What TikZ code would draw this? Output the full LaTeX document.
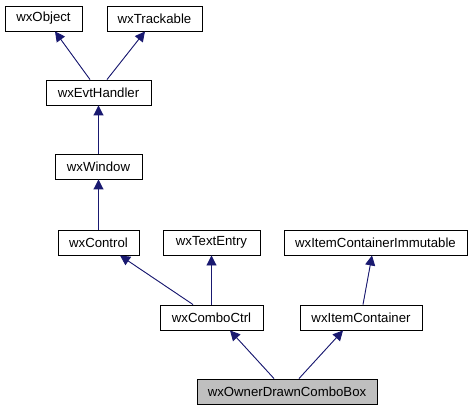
\documentclass[tikz,border=0pt]{standalone}
\usepackage{fontspec}
\setmainfont{Liberation Sans}
\usetikzlibrary{arrows.meta,calc}
\definecolor{edgeblue}{HTML}{191970}
\tikzset{
  cls/.style={draw=black, line width=0.9pt, fill=white, inner sep=0pt, minimum height=25pt, font=\fontsize{13.2}{15}\selectfont},
  inh/.style={draw=edgeblue, line width=0.9pt, -{Triangle[length=10pt,width=10pt]}, fill=edgeblue},
}
\begin{document}
\begin{tikzpicture}[x=1pt,y=-1pt]
\useasboundingbox (0,0) rectangle (473,411);
\node[cls, minimum width=77pt] (obj) at (43.5,18.5) {wxObject};
\node[cls, minimum width=95pt] (trk) at (154.5,18.5) {wxTrackable};
\node[cls, minimum width=105pt] (evt) at (98.5,92.5) {wxEvtHandler};
\node[cls, minimum width=87pt] (win) at (98.5,166.5) {wxWindow};
\node[cls, minimum width=81pt] (ctl) at (98.5,242.5) {wxControl};
\node[cls, minimum width=97pt] (txt) at (211.5,242.5) {wxTextEntry};
\node[cls, minimum width=183pt] (ici) at (375.5,242.5) {wxItemContainerImmutable};
\node[cls, minimum width=103pt] (cmb) at (211.5,317.5) {wxComboCtrl};
\node[cls, minimum width=122pt] (itc) at (361,317.5) {wxItemContainer};
\node[cls, minimum width=180pt, fill={rgb,255:red,191;green,191;blue,191}] (own) at (287,391.5) {wxOwnerDrawnComboBox};

\draw[inh] ($(evt.north)+(-8.5,0)$) -- ($(obj.south)+(11.5,0)$);
\draw[inh] ($(evt.north)+(8.5,0)$) -- ($(trk.south)+(-9.5,0)$);
\draw[inh] (win.north) -- (evt.south);
\draw[inh] (ctl.north) -- (win.south);
\draw[inh] ($(cmb.north)+(-18.5,0)$) -- ($(ctl.south)+(21.5,0)$);
\draw[inh] (cmb.north) -- (txt.south);
\draw[inh] ($(itc.north)+(2,0)$) -- ($(ici.south)+(-3.5,0)$);
\draw[inh] ($(own.north)+(-13,0)$) -- ($(cmb.south)+(18.5,0)$);
\draw[inh] ($(own.north)+(12,0)$) -- ($(itc.south)+(-18,0)$);
\end{tikzpicture}
\end{document}
